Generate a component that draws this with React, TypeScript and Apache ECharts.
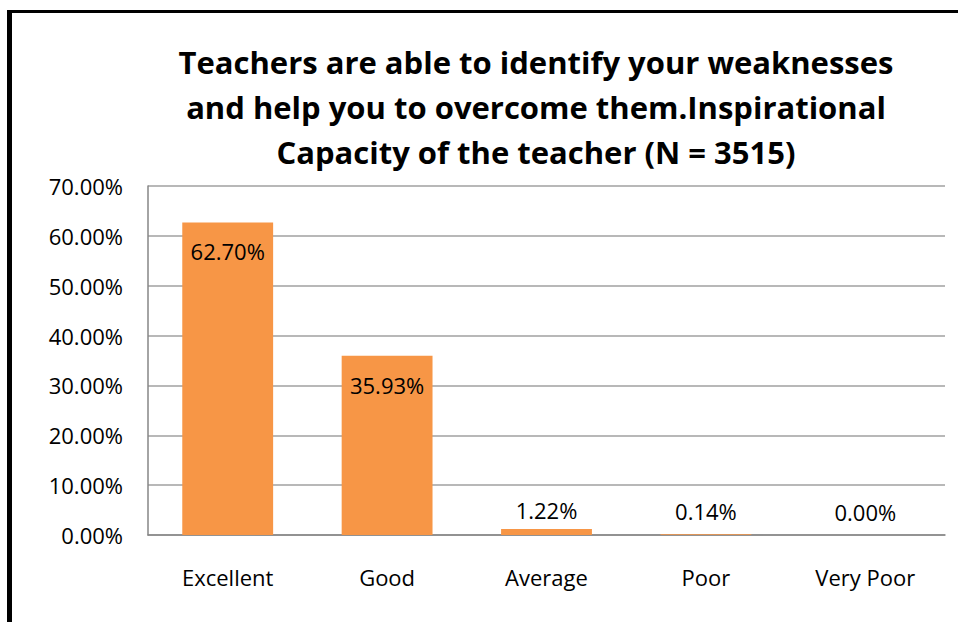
import React, { useEffect, useRef } from "react";
import * as echarts from "echarts";

const titleLines = [
  "Teachers are able to identify your weaknesses",
  "and help you to overcome them.Inspirational",
  "Capacity of the teacher (N = 3515)",
];
const categories = ["Excellent", "Good", "Average", "Poor", "Very Poor"];
const values = [62.7, 35.93, 1.22, 0.14, 0.0];
const yTicks = [0, 10, 20, 30, 40, 50, 60, 70];

const FONT = "'Open Sans', 'Noto Sans', sans-serif";

export default function App() {
  const ref = useRef<HTMLDivElement>(null);
  useEffect(() => {
    if (!ref.current) return;
    const chart = echarts.init(ref.current, null, { renderer: "svg" });
    const labelCfg = [
      { position: "insideTop", distance: 18 },
      { position: "insideTop", distance: 18 },
      { position: "top", distance: 8 },
      { position: "top", distance: 12 },
      { position: "top", distance: 12 },
    ];
    chart.setOption({
      animation: false,
      backgroundColor: "#ffffff",
      title: {
        text: titleLines.join("\n"),
        left: 531,
        top: 34,
        textAlign: "center",
        textStyle: {
          fontFamily: FONT,
          fontWeight: "bold",
          fontSize: 31,
          lineHeight: 45,
          color: "#000000",
        },
      },
      graphic: [
        {
          type: "line",
          shape: { x1: 9.5, y1: 10, x2: 9.5, y2: 622 },
          style: { stroke: "#000000", lineWidth: 5 },
        },
        {
          type: "line",
          shape: { x1: 7, y1: 11.5, x2: 958, y2: 11.5 },
          style: { stroke: "#000000", lineWidth: 3 },
        },
      ],
      grid: { left: 148, right: 13, top: 186, bottom: 87, containLabel: false },
      xAxis: {
        type: "category",
        data: categories,
        axisTick: { show: false },
        axisLine: { show: true, lineStyle: { color: "#868686", width: 1.5 } },
        axisLabel: {
          color: "#000000",
          fontFamily: FONT,
          fontSize: 22,
          margin: 31,
        },
      },
      yAxis: {
        type: "value",
        min: yTicks[0],
        max: yTicks[yTicks.length - 1],
        interval: 10,
        axisLine: { show: true, lineStyle: { color: "#868686", width: 1.5 } },
        axisTick: { show: false },
        splitLine: { show: true, lineStyle: { color: "#a0a0a0", width: 1.5 } },
        axisLabel: {
          color: "#000000",
          fontFamily: FONT,
          fontSize: 22,
          margin: 25,
          formatter: (v: number) => v.toFixed(2) + "%",
        },
      },
      series: [
        {
          type: "bar",
          data: values.map((v, i) => ({
            value: v,
            label: labelCfg[i],
          })),
          barWidth: "57%",
          itemStyle: { color: "#F79646" },
          label: {
            show: true,
            color: "#000000",
            fontFamily: FONT,
            fontSize: 22,
            formatter: (p: any) => Number(p.value).toFixed(2) + "%",
          },
        },
      ],
    });
    return () => chart.dispose();
  }, []);
  return (
    <div
      ref={ref}
      style={{ position: "absolute", left: 0, top: 0, width: 958, height: 622 }}
    />
  );
}
